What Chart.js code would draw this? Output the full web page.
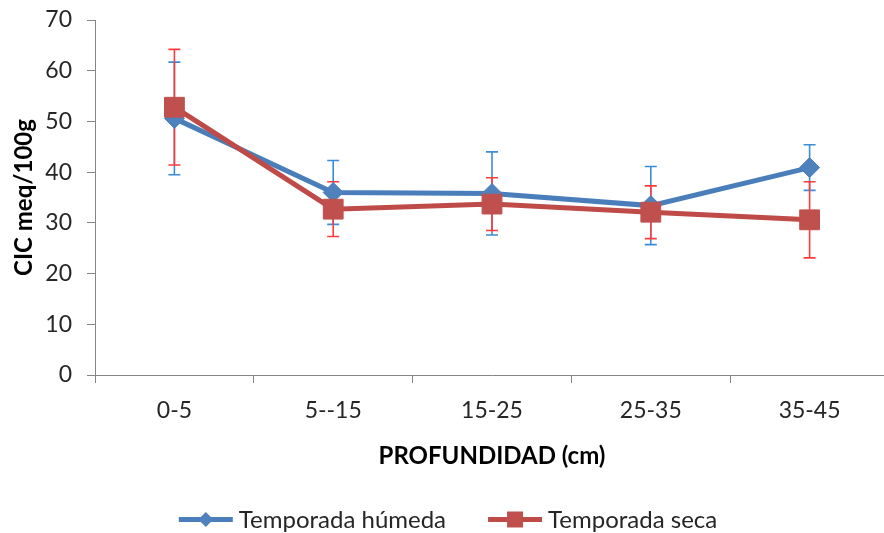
<!DOCTYPE html>
<html>
<head>
<meta charset="utf-8">
<script src="https://cdn.jsdelivr.net/npm/chart.js@4.4.1/dist/chart.umd.min.js"></script>
<style>
  html, body { margin: 0; padding: 0; background: #fff; overflow: hidden; }
  #wrap { width: 884px; height: 533px; overflow: hidden; position: relative; }
  canvas { display: block; }
</style>
</head>
<body>
<div id="wrap"><canvas id="c" width="904" height="533" style="width:904px;height:533px"></canvas></div>
<script>
const categories = ['0-5', '5--15', '15-25', '25-35', '35-45'];
const seriesNames = ['Temporada húmeda', 'Temporada seca'];
const humedaValues = [50.6, 36.0, 35.8, 33.4, 40.9];
const humedaErrors = [11.1, 6.3, 8.2, 7.7, 4.5];
const secaValues = [52.8, 32.7, 33.7, 32.1, 30.6];
const secaErrors = [11.4, 5.4, 5.2, 5.2, 7.5];
const yTicks = [0, 10, 20, 30, 40, 50, 60, 70];
const yTitle = 'CIC meq/100g';
const xTitle = 'PROFUNDIDAD (cm)';

const BLUE = '#4A7EBB';
const RED = '#BE4B48';
const BLUE_ERR = '#3C8DD8';
const RED_ERR = '#FF3B3B';
const AXIS = '#868686';
const TEXT = '#262626';

Chart.defaults.font.family = 'Lato';

const errorBars = {
  id: 'errorBars',
  beforeDatasetsDraw(chart) {
    const ctx = chart.ctx;
    const ys = chart.scales.y;
    chart.data.datasets.forEach((ds, i) => {
      const meta = chart.getDatasetMeta(i);
      ctx.save();
      ctx.strokeStyle = ds.errorColor;
      ctx.lineWidth = 1.6;
      meta.data.forEach((pt, j) => {
        const v = ds.data[j], e = ds.errors[j];
        const x = pt.x;
        const yt = ys.getPixelForValue(v + e);
        const yb = ys.getPixelForValue(v - e);
        ctx.beginPath();
        ctx.moveTo(x, yt); ctx.lineTo(x, yb);
        ctx.moveTo(x - 6, yt); ctx.lineTo(x + 6, yt);
        ctx.moveTo(x - 6, yb); ctx.lineTo(x + 6, yb);
        ctx.stroke();
      });
      ctx.restore();
    });
  }
};

const customLegend = {
  id: 'customLegend',
  afterDraw(chart) {
    const ctx = chart.ctx;
    ctx.save();
    ctx.font = '24px Lato';
    const lineW = 54, gapText = 6, gapItems = 42, yLine = 519.5, yBase = 528;
    const items = chart.data.datasets.map(ds => ({ds, tw: ctx.measureText(ds.label).width}));
    let total = 0;
    items.forEach((it, k) => { total += lineW + gapText + it.tw + (k ? gapItems : 0); });
    let x = 448 - total / 2;
    items.forEach((it, k) => {
      if (k) x += gapItems;
      const ds = it.ds;
      ctx.strokeStyle = ds.borderColor;
      ctx.lineWidth = 5;
      ctx.beginPath();
      ctx.moveTo(x, yLine); ctx.lineTo(x + lineW, yLine);
      ctx.stroke();
      const cx = x + lineW / 2;
      ctx.fillStyle = ds.pointBackgroundColor;
      ctx.beginPath();
      if (ds.pointStyle === 'rectRot') {
        const r = 7.5;
        ctx.moveTo(cx - r, yLine); ctx.lineTo(cx, yLine - r);
        ctx.lineTo(cx + r, yLine); ctx.lineTo(cx, yLine + r);
        ctx.closePath();
      } else {
        const s = 8;
        ctx.rect(cx - s, yLine - s, 2 * s, 2 * s);
      }
      ctx.fill();
      ctx.fillStyle = TEXT;
      ctx.textBaseline = 'alphabetic';
      ctx.textAlign = 'left';
      ctx.fillText(ds.label, x + lineW + gapText, yBase);
      x += lineW + gapText + it.tw;
    });
    ctx.restore();
  }
};

new Chart(document.getElementById('c'), {
  type: 'line',
  data: {
    labels: categories,
    datasets: [
      {
        label: seriesNames[0],
        data: humedaValues,
        errors: humedaErrors,
        errorColor: BLUE_ERR,
        borderColor: BLUE,
        backgroundColor: BLUE,
        pointBackgroundColor: '#4F81BD',
        pointBorderColor: '#4F81BD',
        pointStyle: 'rectRot',
        pointRadius: 10,
        pointBorderWidth: 1,
        borderWidth: 5,
        tension: 0,
        order: 1
      },
      {
        label: seriesNames[1],
        data: secaValues,
        errors: secaErrors,
        errorColor: RED_ERR,
        borderColor: RED,
        backgroundColor: RED,
        pointBackgroundColor: '#C0504D',
        pointBorderColor: '#C0504D',
        pointStyle: 'rect',
        pointRadius: 14,
        pointBorderWidth: 1,
        borderWidth: 5,
        tension: 0,
        order: 0
      }
    ]
  },
  options: {
    responsive: false,
    devicePixelRatio: 1,
    animation: false,
    layout: { padding: { left: 0, top: 20, right: 0, bottom: 0 } },
    plugins: { legend: { display: false }, tooltip: { enabled: false } },
    scales: {
      x: {
        type: 'category',
        offset: true,
        grid: { display: true, drawOnChartArea: false, drawTicks: true, tickLength: 8, color: AXIS, offset: true },
        border: { display: true, color: AXIS, width: 1 },
        ticks: { color: TEXT, font: { size: 23 }, padding: 14, maxRotation: 0 },
        title: { display: true, text: xTitle, color: '#000', font: { size: 24, weight: 'bold' }, padding: { top: 0, bottom: 62 } },
        afterFit(s) { s.height = 158; }
      },
      y: {
        min: 0, max: 70,
        afterBuildTicks(s) { s.ticks = yTicks.map(v => ({ value: v })); },
        grid: { display: true, drawOnChartArea: false, drawTicks: true, tickLength: 8, color: AXIS },
        border: { display: true, color: AXIS, width: 1 },
        ticks: { color: TEXT, font: { size: 23 }, padding: 15 },
        title: { display: true, text: yTitle, color: '#000', font: { size: 24, weight: 'bold' }, padding: { top: 10, bottom: 0 } },
        afterFit(s) { s.width = 95; s.paddingTop = 0; s.paddingBottom = 0; }
      }
    }
  },
  plugins: [errorBars, customLegend]
});
</script>
</body>
</html>
